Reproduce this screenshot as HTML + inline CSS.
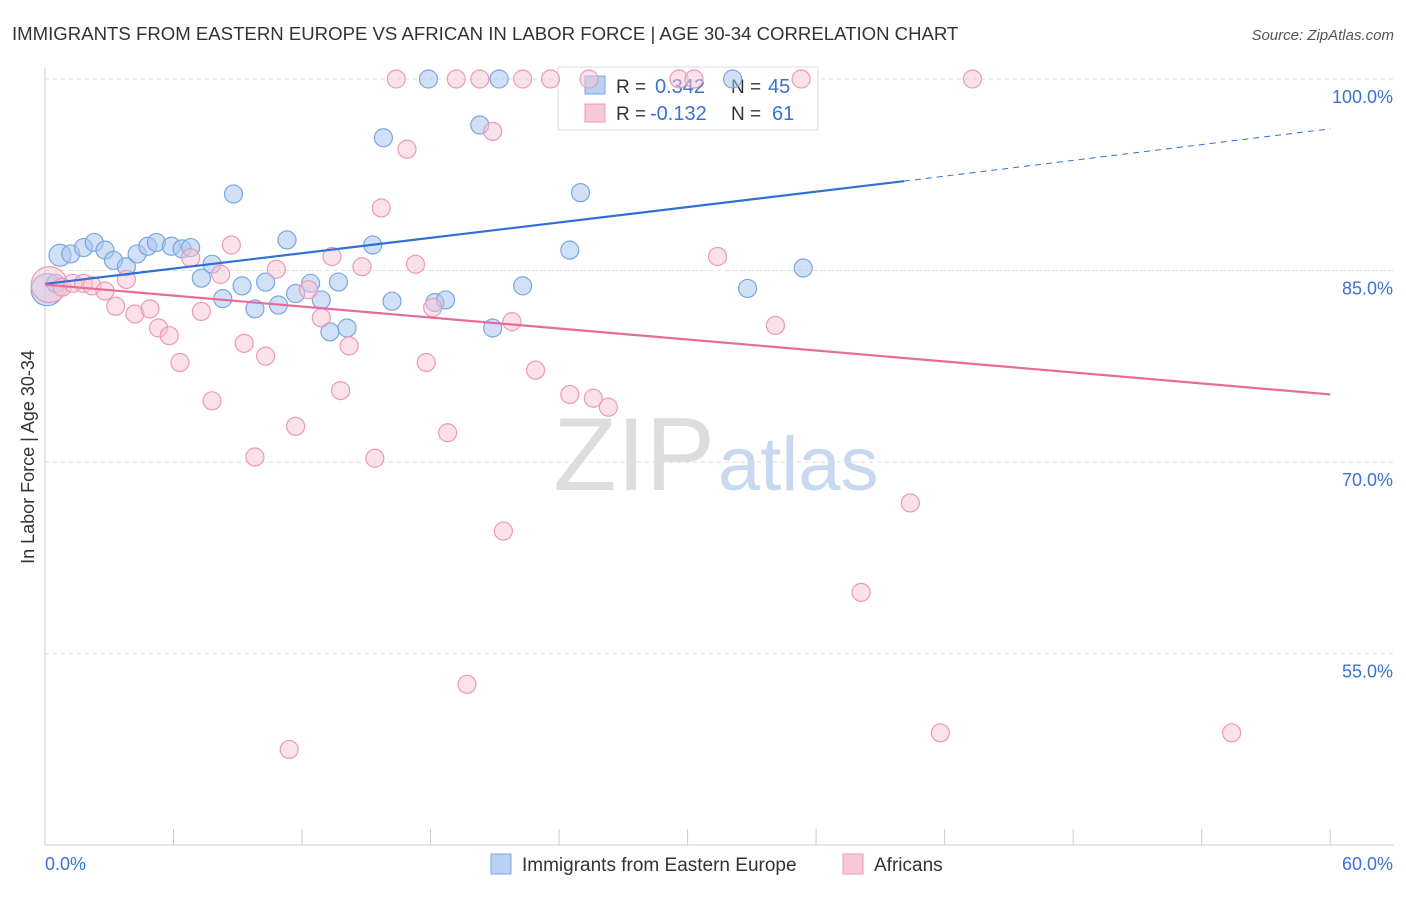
<!DOCTYPE html>
<html><head><meta charset="utf-8"><style>
body{margin:0;background:#fff;font-family:"Liberation Sans",sans-serif}
svg text{font-family:"Liberation Sans",sans-serif}
</style></head><body>
<svg id="c" width="1406" height="892">
<text x="12" y="40" font-size="18.6" fill="#333">IMMIGRANTS FROM EASTERN EUROPE VS AFRICAN IN LABOR FORCE | AGE 30-34 CORRELATION CHART</text>
<text x="1394" y="40" font-size="15" fill="#555" font-style="italic" text-anchor="end">Source: ZipAtlas.com</text>
<text x="715" y="490" font-size="104" fill="#ddd" text-anchor="end" font-family="Liberation Serif">ZIP</text>
<text x="718" y="490" font-size="76" fill="#c8d8ee">atlas</text>
<text x="34" y="457" font-size="18" fill="#333" text-anchor="middle" transform="rotate(-90 34 457)">In Labor Force | Age 30-34</text>
<g id="grid"></g>
<g>
<rect x="558" y="67" width="260" height="63" fill="#fff" stroke="#ddd"/>
<rect x="585" y="76" width="20" height="18" fill="#b8d0f4" stroke="#7aa6e0"/>
<rect x="585" y="104" width="20" height="18" fill="#f9c8d6" stroke="#eb9ab4"/>
<text x="616" y="93" font-size="19" fill="#333">R =</text>
<text x="655" y="93" font-size="20" fill="#3a72d0">0.342</text>
<text x="731" y="93" font-size="19" fill="#333">N =</text>
<text x="768" y="93" font-size="20" fill="#3a72d0">45</text>
<text x="616" y="120" font-size="19" fill="#333">R =</text>
<text x="650" y="120" font-size="20" fill="#3a72d0">-0.132</text>
<text x="731" y="120" font-size="19" fill="#333">N =</text>
<text x="772" y="120" font-size="20" fill="#3a72d0">61</text>
</g>
<g id="pts"></g><g id="lines"></g>
<g>
<rect x="491" y="854" width="20" height="20" fill="#b8d0f4" stroke="#7aa6e0"/>
<text x="522" y="871" font-size="19" fill="#333">Immigrants from Eastern Europe</text>
<rect x="843" y="854" width="20" height="20" fill="#f9c8d6" stroke="#eb9ab4"/>
<text x="874" y="871" font-size="19" fill="#333">Africans</text>
</g>
</svg>
<script>
const yTicks=[100,85,70,55];
const xTickLabels=["0.0%","60.0%"];
const blueX=[0.7,1.2,1.8,2.3,2.8,3.2,3.8,4.3,4.8,5.2,5.9,6.4,6.8,7.3,7.8,8.3,8.8,9.2,9.8,10.3,10.9,11.3,11.7,12.4,12.9,13.3,13.7,14.1,15.3,15.8,16.2,17.9,18.2,18.7,20.3,20.9,21.2,22.3,24.5,25.0,32.1,32.8,35.4,0.1,0.5];
const blueY=[86.2,86.3,86.8,87.2,86.6,85.8,85.3,86.3,86.9,87.2,86.9,86.7,86.8,84.4,85.5,82.8,91.0,83.8,82.0,84.1,82.3,87.4,83.2,84.0,82.7,80.2,84.1,80.5,87.0,95.4,82.6,100,82.5,82.7,96.4,80.5,100,83.8,86.6,91.1,100,83.6,85.2,83.5,84.0];
const blueR=[11,9,9,9,9,9,9,9,9,9,9,9,9,9,9,9,9,9,9,9,9,9,9,9,9,9,9,9,9,9,9,9,9,9,9,9,9,9,9,9,9,9,9,16,9];
const pinkX=[0.2,0.8,1.3,1.8,2.2,2.8,3.3,3.8,4.2,4.9,5.3,5.8,6.3,6.8,7.3,7.8,8.2,8.7,9.3,9.8,10.3,10.8,11.7,11.4,12.3,12.9,13.4,13.8,14.2,14.8,15.4,15.7,16.4,16.9,17.3,17.8,18.1,18.8,19.2,19.7,20.3,20.9,21.4,21.8,22.3,22.9,23.6,24.5,25.6,26.3,29.6,31.4,34.1,35.3,38.1,40.4,41.8,43.3,55.4,25.4,30.3];
const pinkY=[83.9,83.7,84.0,84.0,83.8,83.4,82.2,84.3,81.6,82.0,80.5,79.9,77.8,86.0,81.8,74.8,84.7,87.0,79.3,70.4,78.3,85.1,72.8,47.5,83.5,81.3,86.1,75.6,79.1,85.3,70.3,89.9,100,94.5,85.5,77.8,82.1,72.3,100,52.6,100,95.9,64.6,81.0,100,77.2,100,75.3,75.0,74.3,100,86.1,80.7,100,59.8,66.8,48.8,100,48.8,100,100];
const pinkR=[18,9,9,9,9,9,9,9,9,9,9,9,9,9,9,9,9,9,9,9,9,9,9,9,9,9,9,9,9,9,9,9,9,9,9,9,9,9,9,9,9,9,9,9,9,9,9,9,9,9,9,9,9,9,9,9,9,9,9,9,9];
const blueFit=[83.95,92.0,96.1];
const pinkFit=[83.9,75.3];
const X=v=>45+v*21.42, Y=v=>79+(100-v)*12.77;
const NS="http://www.w3.org/2000/svg";
function mk(t,a,p){const e=document.createElementNS(NS,t);for(const k in a)e.setAttribute(k,a[k]);document.getElementById(p).appendChild(e);return e;}
const ax=mk('line',{x1:45,y1:68,x2:45,y2:845,stroke:'#ccc'},'grid');


const bx=mk('line',{x1:45,y1:845,x2:1394,y2:845,stroke:'#ccc'},'grid');


for(let i=0;i<=10;i++){const t=mk('line',{x1:X(i*6),y1:829,x2:X(i*6),y2:845,stroke:'#ccc'},'grid');

}
yTicks.forEach(v=>{const g=mk('line',{x1:45,y1:Y(v),x2:1394,y2:Y(v),stroke:'#ddd','stroke-dasharray':'4 4'},'grid');


const t=mk('text',{x:1393,y:Y(v)+24,'font-size':18,fill:'#3a72d0','text-anchor':'end'},'grid');t.textContent=v.toFixed(1)+'%';

});
xTickLabels.forEach((s,i)=>{const t=mk('text',{x:i?1393:45,y:870,'font-size':18,fill:'#3a72d0','text-anchor':i?'end':'start'},'grid');t.textContent=s;

});
blueX.forEach((x,i)=>{const c=mk('circle',{cx:X(x),cy:Y(blueY[i]),r:blueR[i],fill:'rgba(170,198,240,0.55)',stroke:'#7aa6e0','stroke-width':1.2},'pts');

});
pinkX.forEach((x,i)=>{const c=mk('circle',{cx:X(x),cy:Y(pinkY[i]),r:pinkR[i],fill:'rgba(248,196,212,0.5)',stroke:'#eb9ab4','stroke-width':1.2},'pts');

});
const b1=mk('line',{x1:X(0),y1:Y(blueFit[0]),x2:X(40.1),y2:Y(blueFit[1]),stroke:'#2f6fd6','stroke-width':2.2},'lines');


const b2=mk('line',{x1:X(40.1),y1:Y(blueFit[1]),x2:X(60),y2:Y(blueFit[2]),stroke:'#2f6fd6','stroke-width':1,'stroke-dasharray':'6 5'},'lines');


const p1=mk('line',{x1:X(0),y1:Y(pinkFit[0]),x2:X(60),y2:Y(pinkFit[1]),stroke:'#e86a98','stroke-width':2.2},'lines');


</script>
</body></html>
